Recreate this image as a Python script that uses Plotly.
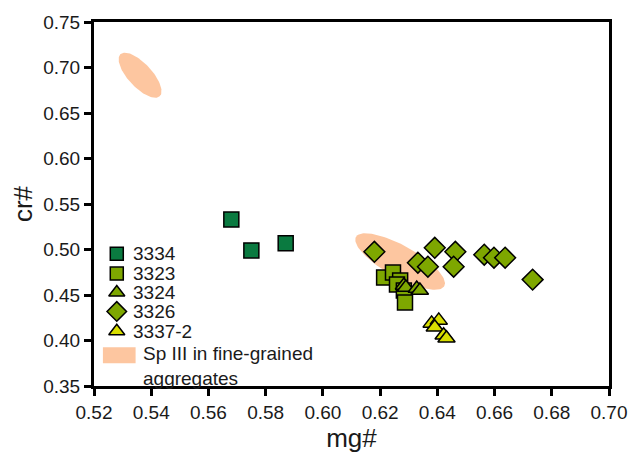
import numpy as np
import plotly.graph_objects as go

# ---- data ----
x_3334 = [0.568, 0.575, 0.587]
y_3334 = [0.533, 0.499, 0.507]

x_3323 = [0.6214, 0.6245, 0.6270, 0.6259, 0.6283, 0.6287]
y_3323 = [0.4691, 0.4746, 0.4658, 0.4615, 0.4549, 0.4418]

x_3324 = [0.6283, 0.6290, 0.6328, 0.6339]
y_3324 = [0.4604, 0.4582, 0.4571, 0.4549]

x_3326 = [0.6180, 0.6332, 0.6367, 0.6391, 0.6463, 0.6457, 0.6564, 0.6598, 0.6637, 0.6733]
y_3326 = [0.4975, 0.4855, 0.4811, 0.5019, 0.4975, 0.4811, 0.4943, 0.4910, 0.4910, 0.4669]

x_3337 = [0.6380, 0.6405, 0.6391, 0.6422, 0.6432]
y_3337 = [0.4188, 0.4221, 0.4145, 0.4057, 0.4025]

series_names = ["3334", "3323", "3324", "3326", "3337-2"]
field_name = "Sp III in fine-grained<br>aggregates"

# Sp III field outlines: centre (data), semi-axes (px), rotation (deg)
field_centres = [(0.5361, 0.6915), (0.6270, 0.4868)]
field_axes = [(29, 12), (51, 16)]
field_angles = [-47, -29]

x_ticks = [0.52, 0.54, 0.56, 0.58, 0.60, 0.62, 0.64, 0.66, 0.68, 0.70]
y_ticks = [0.35, 0.40, 0.45, 0.50, 0.55, 0.60, 0.65, 0.70, 0.75]

# ---- layout constants ----
W, H = 639, 459
ML, MR, MT, MB = 94, 25, 20, 73
xr = [0.52, 0.70]
yr = [0.35, 0.75]
pxx = (W - ML - MR) / (xr[1] - xr[0])
pxy = (H - MT - MB) / (yr[1] - yr[0])

FONT = "Liberation Sans, Arial"
peach = "#fdc6a0"
dark_green = "#0a7a40"
light_green = "#7ea700"
yellow = "#d8de00"
edge = dict(color="black", width=1.5)

styles = [
    dict(symbol="square", color=dark_green),
    dict(symbol="square", color=light_green),
    dict(symbol="triangle-up", color=light_green),
    dict(symbol="diamond", color=light_green),
    dict(symbol="triangle-up", color=yellow),
]
main_sizes = {"square": 15, "triangle-up": 15, "diamond": 16}
legend_sizes = {"square": 13, "triangle-up": 14, "diamond": 15}

fig = go.Figure()

t = np.linspace(0, 2 * np.pi, 120)
for (cx, cy), (a, b), ang in zip(field_centres, field_axes, field_angles):
    th = np.deg2rad(ang)
    dx = a * np.cos(t) * np.cos(th) - b * np.sin(t) * np.sin(th)
    dy = a * np.cos(t) * np.sin(th) + b * np.sin(t) * np.cos(th)
    fig.add_trace(go.Scatter(
        x=cx + dx / pxx, y=cy + dy / pxy, mode="lines", fill="toself",
        fillcolor=peach, line=dict(width=0, color=peach),
        showlegend=False, hoverinfo="skip"))

xs = [x_3334, x_3323, x_3324, x_3326, x_3337]
ys = [y_3334, y_3323, y_3324, y_3326, y_3337]
draw_order = [0, 1, 3, 2, 4]
for i in draw_order:
    st = styles[i]
    fig.add_trace(go.Scatter(
        x=xs[i], y=ys[i], mode="markers", name=series_names[i], showlegend=False,
        marker=dict(symbol=st["symbol"], size=main_sizes[st["symbol"]],
                    color=st["color"], line=edge)))

# ---- custom legend drawn on a pixel-space overlay axis ----
leg_sym_x = 117
leg_txt_x = 131
leg_rows_y = [253, 273, 292, 311, 331]
for i, st in enumerate(styles):
    fig.add_trace(go.Scatter(
        x=[leg_sym_x], y=[leg_rows_y[i]], xaxis="x2", yaxis="y2", mode="markers",
        showlegend=False, hoverinfo="skip",
        marker=dict(symbol=st["symbol"], size=legend_sizes[st["symbol"]],
                    color=st["color"], line=edge)))
    fig.add_annotation(x=leg_txt_x, y=leg_rows_y[i], xref="x2", yref="y2",
                       text=series_names[i], showarrow=False, xanchor="left",
                       yanchor="middle", font=dict(size=19, color="#1a1a1a", family=FONT))

fig.add_shape(type="rect", xref="x2", yref="y2", x0=103, x1=136, y0=347, y1=363,
              fillcolor=peach, line=dict(width=0), layer="below")
fig.add_annotation(x=141, y=366, xref="x2", yref="y2", text=field_name,
                   showarrow=False, xanchor="left", yanchor="middle", align="left",
                   font=dict(size=19, color="#1a1a1a", family=FONT))

axis_common = dict(showline=True, linecolor="black", linewidth=3, mirror=True,
                   ticks="outside", ticklen=7, tickwidth=2.5, tickcolor="black",
                   showgrid=False, zeroline=False,
                   tickfont=dict(size=19, color="#1a1a1a", family=FONT))

fig.update_layout(
    width=W, height=H, margin=dict(l=ML, r=MR, t=MT, b=MB),
    plot_bgcolor="white", paper_bgcolor="white",
    font=dict(family=FONT, color="#1a1a1a"),
    showlegend=False,
    xaxis=dict(range=xr, tickvals=x_ticks, ticktext=[f"{v:.2f}" for v in x_ticks],
               title=dict(text="mg#", font=dict(size=26), standoff=6), **axis_common),
    yaxis=dict(range=yr, tickvals=y_ticks, ticktext=[f"{v:.2f}" for v in y_ticks],
               title=dict(text="cr#", font=dict(size=26), standoff=4), **axis_common),
    xaxis2=dict(range=[ML, W - MR], overlaying="x", anchor="y2", visible=False,
                fixedrange=True),
    yaxis2=dict(range=[H - MB, MT], overlaying="y", anchor="x2", visible=False,
                fixedrange=True),
)

fig.write_html("out.html")
